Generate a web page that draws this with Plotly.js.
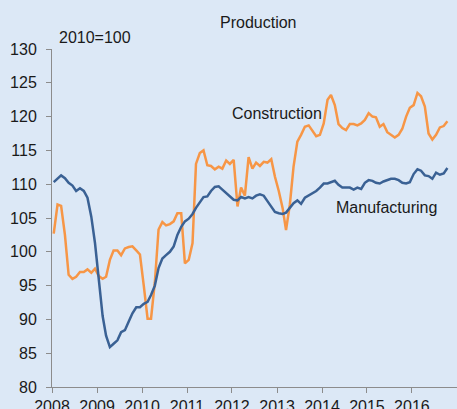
<!DOCTYPE html>
<html>
<head>
<meta charset="utf-8">
<script src="https://cdn.plot.ly/plotly-3.0.1.min.js"></script>
<style>html,body{margin:0;padding:0;background:#dce8f6;}#chart{width:457px;height:409px;}</style>
</head>
<body>
<div id="chart"></div>
<script>
// Monthly index values, Jan 2008 - Oct 2016 (2010=100)
const startYear = 2008;
const manufacturing = [
110.3,110.9,111.3,110.9,110.2,109.8,109.0,109.4,109.0,108.0,105.2,101.3,
95.5,90.5,87.6,85.9,86.4,86.9,88.1,88.4,89.7,90.9,91.8,91.8,
92.3,92.6,93.6,95.0,97.6,99.0,99.5,100.0,100.8,102.5,103.7,104.5,
104.9,105.6,106.5,107.4,108.1,108.2,109.0,109.6,109.7,109.2,108.7,108.2,
107.7,107.6,108.1,107.9,108.1,107.9,108.3,108.5,108.3,107.5,106.6,105.9,
105.7,105.6,105.8,106.5,107.2,107.6,107.1,108.0,108.3,108.6,109.0,109.5,
110.1,110.1,110.3,110.5,109.9,109.5,109.5,109.5,109.2,109.5,109.3,110.2,
110.6,110.5,110.2,110.1,110.4,110.6,110.8,110.8,110.6,110.2,110.1,110.3,
111.5,112.2,112.0,111.3,111.2,110.8,111.7,111.4,111.6,112.4
];
const construction = [
102.7,107.0,106.8,102.5,96.6,96.0,96.3,97.0,97.0,97.4,96.9,97.5,
96.4,96.0,96.3,98.8,100.2,100.2,99.5,100.5,100.7,100.8,100.2,99.6,
95.0,90.1,90.1,95.5,103.3,104.4,103.9,104.1,104.5,105.7,105.7,98.3,
98.8,101.3,113.0,114.6,115.0,112.8,112.7,112.2,112.6,112.3,113.5,113.0,
113.6,106.7,109.5,108.3,114.0,112.3,113.2,112.7,113.3,113.2,113.7,111.1,
109.0,106.5,103.2,107.0,112.6,116.3,117.3,118.5,118.7,118.0,117.1,117.3,
119.0,122.5,123.2,121.7,118.9,118.3,118.0,118.9,118.9,118.7,119.0,119.5,
120.5,120.0,119.9,118.5,118.9,117.7,117.3,116.9,117.3,118.2,120.0,121.3,
121.7,123.5,123.0,121.5,117.5,116.6,117.3,118.4,118.6,119.3
];
const tickYears = ['2008','2009','2010','2011','2012','2013','2014','2015','2016'];
const yTicks = [80,85,90,95,100,105,110,115,120,125,130];

function monthDates(n){
  const out=[];
  for(let i=0;i<n;i++){
    const y=startYear+Math.floor(i/12), m=(i%12)+1;
    out.push(y+'-'+String(m).padStart(2,'0')+'-15');
  }
  return out;
}
const dates = monthDates(manufacturing.length);

const font = {family:'"Liberation Sans", Arial, sans-serif', size:16, color:'#1a1a1a'};

const traces = [
  {x:dates, y:construction, type:'scatter', mode:'lines', name:'Construction',
   line:{color:'#f79646', width:2.5}},
  {x:dates, y:manufacturing, type:'scatter', mode:'lines', name:'Manufacturing',
   line:{color:'#3a6194', width:2.5}}
];

const layout = {
  width:457, height:409,
  margin:{l:52, r:0, t:49, b:22, pad:0},
  paper_bgcolor:'#dce8f6', plot_bgcolor:'#dce8f6',
  font:font,
  showlegend:false,
  xaxis:{
    type:'date', range:['2008-01-01','2017-01-01'],
    tickvals:tickYears.map(y=>y+'-01-01'), ticktext:tickYears,
    showgrid:false, zeroline:false, showline:true, linecolor:'#8c8c8c', linewidth:1,
    ticks:'outside', ticklen:5, tickcolor:'#8c8c8c', tickfont:font, automargin:false
  },
  yaxis:{
    range:[80,130], tickvals:yTicks,
    showgrid:false, zeroline:false, showline:true, linecolor:'#8c8c8c', linewidth:1,
    ticks:'outside', ticklen:5, tickcolor:'#8c8c8c', tickfont:font, automargin:false,
    ticklabelstandoff:6
  },
  annotations:[
    {text:'Production', xref:'paper', yref:'paper', x:0.51, y:1, yshift:27, xanchor:'center', yanchor:'middle', showarrow:false, font:font},
    {text:'2010=100', xref:'paper', yref:'paper', x:0, y:1, xshift:5, yshift:12, xanchor:'left', yanchor:'middle', showarrow:false, font:font},
    {text:'Construction', xref:'x', yref:'y', x:'2013-01-01', y:120.5, xanchor:'center', yanchor:'middle', showarrow:false, font:font},
    {text:'Manufacturing', xref:'x', yref:'y', x:'2015-06-10', y:106.6, xanchor:'center', yanchor:'middle', showarrow:false, font:font}
  ]
};

Plotly.newPlot('chart', traces, layout, {displayModeBar:false, staticPlot:true});
</script>
</body>
</html>
